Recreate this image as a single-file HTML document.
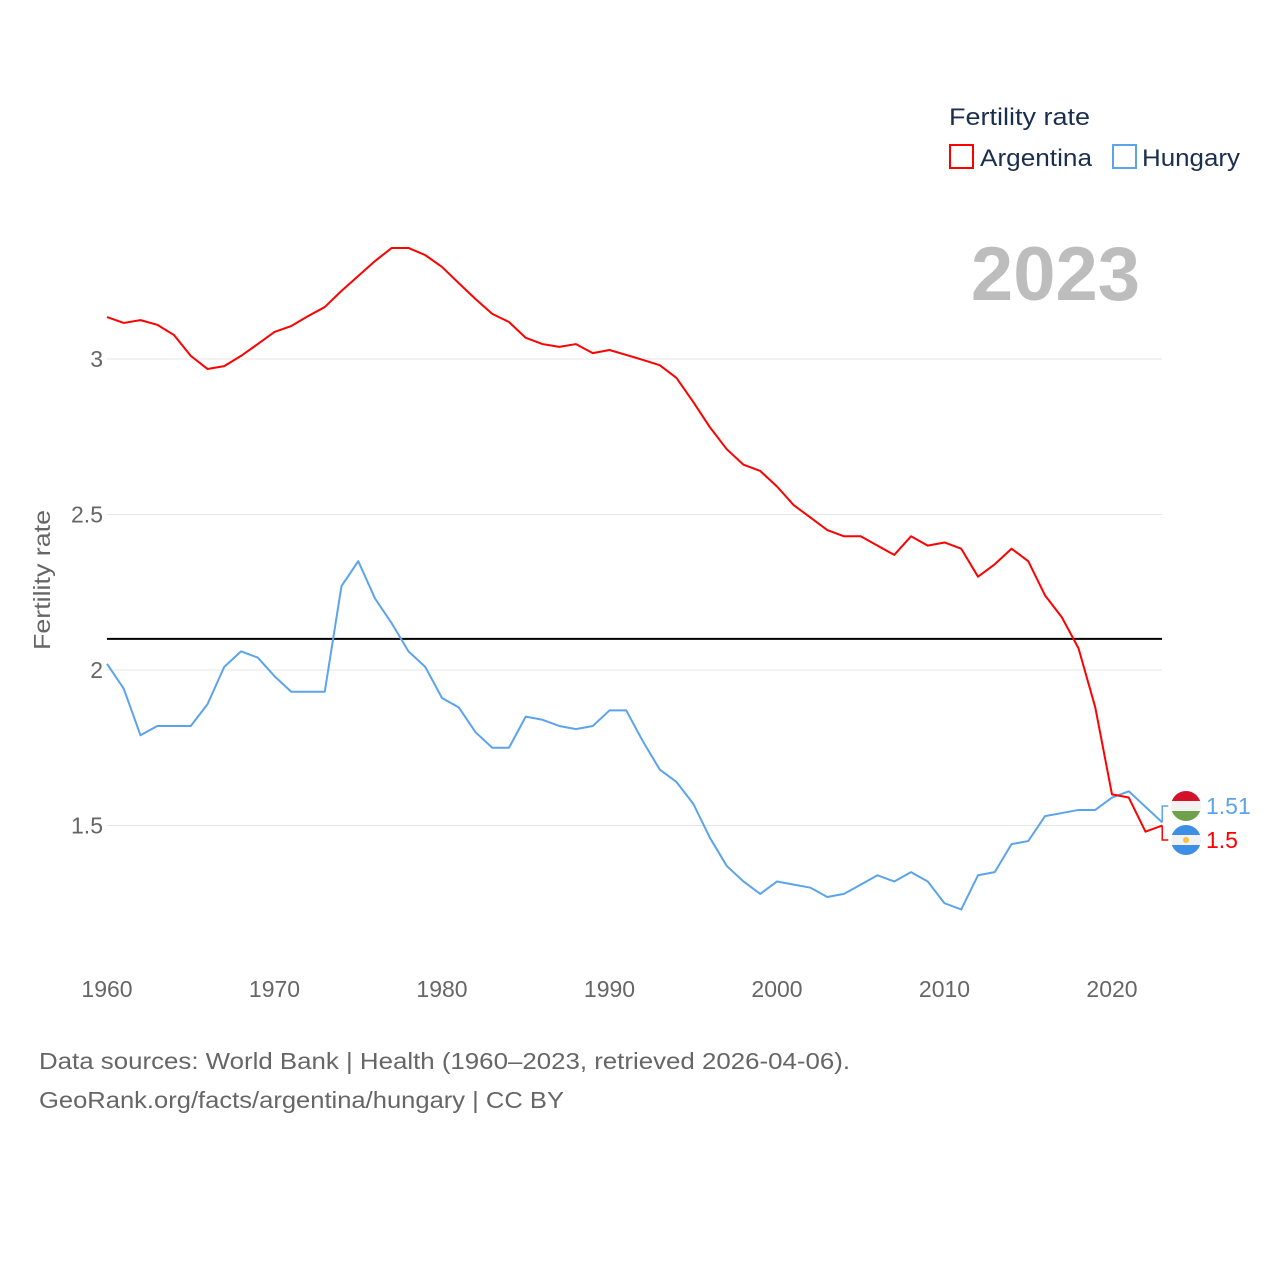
<!DOCTYPE html>
<html><head><meta charset="utf-8"><style>
body{margin:0;background:#fff;}
svg text{font-family:"Liberation Sans",sans-serif;}
</style></head><body>
<svg id="chart" width="1280" height="1280" viewBox="0 0 1280 1280" xmlns="http://www.w3.org/2000/svg">
<rect width="1280" height="1280" fill="#fff"/>
<g id="grid"></g>
<g id="yticks"></g>
<g id="xticks"></g>
<text transform="translate(50,580) rotate(-90)" text-anchor="middle" font-size="23" fill="#666" textLength="140" lengthAdjust="spacingAndGlyphs">Fertility rate</text>
<text x="1140" y="300" text-anchor="end" font-size="76" font-weight="bold" fill="#bdbdbd">2023</text>
<g>
<text x="949" y="125" font-size="24" fill="#1a2e4e" textLength="141" lengthAdjust="spacingAndGlyphs">Fertility rate</text>
<rect x="950" y="145" width="23" height="23" fill="none" stroke="#ff0000" stroke-width="2"/>
<text x="980" y="166" font-size="24" fill="#1a2e4e" textLength="112" lengthAdjust="spacingAndGlyphs">Argentina</text>
<rect x="1113" y="145" width="23" height="23" fill="none" stroke="#5ba4ec" stroke-width="2"/>
<text x="1142" y="166" font-size="24" fill="#1a2e4e" textLength="98" lengthAdjust="spacingAndGlyphs">Hungary</text>
</g>
<g id="series"></g>
<text x="39" y="1069" font-size="23" fill="#666" textLength="811" lengthAdjust="spacingAndGlyphs">Data sources: World Bank | Health (1960–2023, retrieved 2026-04-06).</text>
<text x="39" y="1108" font-size="23" fill="#666" textLength="525" lengthAdjust="spacingAndGlyphs">GeoRank.org/facts/argentina/hungary | CC BY</text>
</svg>
<script>
const years = [];
for (let y = 1960; y <= 2023; y++) years.push(y);
const argentina = [3.135,3.116,3.125,3.11,3.077,3.01,2.968,2.977,3.01,3.048,3.087,3.106,3.138,3.167,3.219,3.267,3.315,3.357,3.357,3.334,3.296,3.244,3.193,3.145,3.119,3.068,3.048,3.039,3.048,3.019,3.029,3.013,2.997,2.98,2.939,2.862,2.78,2.71,2.66,2.64,2.59,2.53,2.49,2.45,2.43,2.43,2.40,2.37,2.43,2.40,2.41,2.39,2.30,2.34,2.39,2.35,2.24,2.17,2.07,1.88,1.60,1.59,1.48,1.50];
const hungary = [2.02,1.94,1.79,1.82,1.82,1.82,1.89,2.01,2.06,2.04,1.98,1.93,1.93,1.93,2.27,2.35,2.23,2.15,2.06,2.01,1.91,1.88,1.80,1.75,1.75,1.85,1.84,1.82,1.81,1.82,1.87,1.87,1.77,1.68,1.64,1.57,1.46,1.37,1.32,1.28,1.32,1.31,1.30,1.27,1.28,1.31,1.34,1.32,1.35,1.32,1.25,1.23,1.34,1.35,1.44,1.45,1.53,1.54,1.55,1.55,1.59,1.61,1.56,1.51];
const yTicks = [1.5, 2, 2.5, 3];
const yTickLabels = ["1.5","2","2.5","3"];
const xTicks = [1960,1970,1980,1990,2000,2010,2020];
const referenceLine = [2.1];
const NS = "http://www.w3.org/2000/svg";
const xs = y => 107 + (y - 1960) * 16.75;
const ys = v => 359 + (3 - v) * 311;
function mk(tag, attrs, parent, txt){const e=document.createElementNS(NS,tag);for(const k in attrs)e.setAttribute(k,attrs[k]);if(txt!==undefined)e.textContent=txt;parent.appendChild(e);return e;}
const grid=document.getElementById('grid'), yt=document.getElementById('yticks'), xt=document.getElementById('xticks'), ser=document.getElementById('series');
yTicks.forEach((v,i)=>{
  const l=mk('line',{x1:107,x2:1162,y1:ys(v),y2:ys(v),stroke:'#e6e6e6','stroke-width':1},grid);
  
  
  const t=mk('text',{x:103,y:ys(v)+8,'text-anchor':'end','font-size':23,fill:'#666'},yt,yTickLabels[i]);
  
  
});
xTicks.forEach(y=>{
  const t=mk('text',{x:xs(y),y:997,'text-anchor':'middle','font-size':23,fill:'#666'},xt,String(y));
  
  
});
const ref=mk('line',{x1:107,x2:1162,y1:ys(referenceLine[0]),y2:ys(referenceLine[0]),stroke:'#000','stroke-width':2},ser);


function line(vals,color,name){
  const p=mk('polyline',{points:vals.map((v,i)=>xs(years[i])+','+ys(v)).join(' '),fill:'none',stroke:color,'stroke-width':2,'stroke-linejoin':'round'},ser);
  
  
}
line(hungary,'#5ba4ec','hungary-line');
line(argentina,'#ff0000','argentina-line');
const lx=xs(2023);
const hy=806, ay=840;
const c1=mk('polyline',{points:`${lx},${ys(hungary[63])} ${lx},${hy} ${lx+6},${hy}`,fill:'none',stroke:'#5ba4ec','stroke-width':1.5},ser);


const c2=mk('polyline',{points:`${lx},${ys(argentina[63])} ${lx},${ay} ${lx+6},${ay}`,fill:'none',stroke:'#ff0000','stroke-width':1.5},ser);


const defs=mk('defs',{},ser);
mk('clipPath',{id:'c1'},defs); mk('circle',{cx:1186,cy:hy,r:15},defs.lastChild);
mk('clipPath',{id:'c2'},defs); mk('circle',{cx:1186,cy:ay,r:15},defs.lastChild);
const hf=mk('g',{'clip-path':'url(#c1)'},ser);


mk('rect',{x:1171,y:hy-15,width:30,height:10,fill:'#d2112b'},hf);
mk('rect',{x:1171,y:hy-5,width:30,height:10,fill:'#f2f2f2'},hf);
mk('rect',{x:1171,y:hy+5,width:30,height:10,fill:'#6fa14c'},hf);
const af=mk('g',{'clip-path':'url(#c2)'},ser);


mk('rect',{x:1171,y:ay-15,width:30,height:10,fill:'#3d8fe5'},af);
mk('rect',{x:1171,y:ay-5,width:30,height:10,fill:'#f2f2f2'},af);
mk('rect',{x:1171,y:ay+5,width:30,height:10,fill:'#3d8fe5'},af);
mk('circle',{cx:1186,cy:ay,r:3,fill:'#f5c242'},af);
const hl=mk('text',{x:1206,y:hy+8,'font-size':23,fill:'#5ba4ec'},ser,String(hungary[63]));


const al=mk('text',{x:1206,y:ay+8,'font-size':23,fill:'#ff0000'},ser,String(argentina[63]));


</script>
</body></html>
